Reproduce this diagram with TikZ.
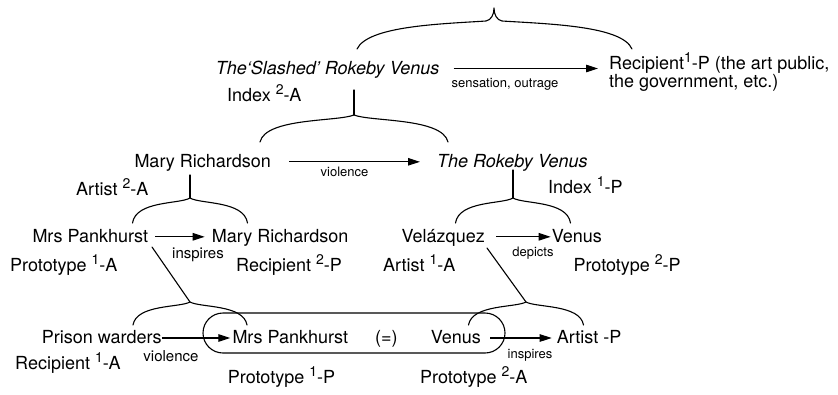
\documentclass[tikz,border=0pt]{standalone}
\usepackage{fontspec}
\setmainfont{TeX Gyre Heros}
\usetikzlibrary{arrows.meta}
\newcommand\upnum[1]{\raisebox{7pt}{\fontsize{14}{14}\selectfont #1}}
\tikzset{
  lbl/.style={anchor=base west, inner sep=0pt, font=\fontsize{18}{18}\selectfont, text height=14pt, text depth=3pt},
  itlbl/.style={lbl, font=\fontsize{18}{18}\selectfont\itshape},
  small/.style={anchor=base, inner sep=0pt, font=\fontsize{13}{13}\selectfont},
  smallbig/.style={anchor=base, inner sep=0pt, font=\fontsize{15}{15}\selectfont},
  arr/.style={-{Triangle[length=12pt,width=7.5pt]}, line width=1.1pt},
  brc/.style={line width=1.1pt, line join=round, line cap=round},
  pics/ubrace/.style args={#1/#2}{code={
    \draw[brc] (-#1,#2) .. controls (-0.94*#1,0.1*#2) and (-0.18*#1,0.25*#2) .. (0,0)
      .. controls (0.18*#1,0.25*#2) and (0.94*#1,0.1*#2) .. (#1,#2);}}
}
\begin{document}
\begin{tikzpicture}[x=1pt,y=-1pt]
\useasboundingbox (0,0) rectangle (838,394);
% row 1
\node[itlbl] (sv) at (215.7,74) {The‘Slashed’ Rokeby Venus};
\node[lbl, text height=13pt, text depth=1pt] (rec1) at (609,69.5) {Recipient\upnum{1}-P (the art public,};
\node[lbl, text height=11pt] (rec2) at (609,87.5) {the government, etc.)};
\node[small] (so) at (505,87.3) {sensation, outrage};
\node[lbl] (ix2a) at (227,101.7) {Index \upnum{2}-A};
% row 2
\node[lbl] (mr1) at (134.3,167.3) {Mary Richardson};
\node[small] (vi1) at (344.5,176.3) {violence};
\node[itlbl] (rv) at (437,167.3) {The Rokeby Venus};
\node[lbl] (ix1p) at (548,193.3) {Index \upnum{1}-P};
\node[lbl] (ar2a) at (76,195.3) {Artist \upnum{2}-A};
% row 3
\node[lbl] (mp1) at (32.3,242.3) {Mrs Pankhurst};
\node[lbl] (mr2) at (211.7,242.3) {Mary Richardson};
\node[smallbig] (in1) at (198,258.3) {inspires};
\node[lbl] (pt1a) at (10,271.7) {Prototype \upnum{1}-A};
\node[lbl] (rc2p) at (236,271.7) {Recipient \upnum{2}-P};
\node[lbl] (vel) at (401.5,242.3) {Velázquez};
\node[small] (dep) at (533,256.7) {depicts};
\node[lbl] (ven1) at (551.7,242.3) {Venus};
\node[lbl] (ar1a) at (383,271.7) {Artist \upnum{1}-A};
\node[lbl] (pt2p) at (573.3,271.3) {Prototype \upnum{2}-P};
% row 4
\node[draw, line width=1.1pt, rounded corners=20pt, minimum width=302pt, minimum height=40pt, inner sep=0pt] (grp) at (354,333) {};
\node[lbl] (pw) at (41.7,343.5) {Prison warders};
\node[lbl] (mp2) at (232.3,343.5) {Mrs Pankhurst};
\node[lbl] (eq) at (375,343.5) {(=)};
\node[lbl] (ven2) at (430.7,343.5) {Venus};
\node[lbl] (arp) at (556.7,343.5) {Artist -P};
\node[smallbig] (vi2) at (171,361.7) {violence};
\node[small] (in2) at (530,358.3) {inspires};
\node[lbl] (rc1a) at (15,369.3) {Recipient \upnum{1}-A};
\node[lbl] (pt1p) at (227.7,383.3) {Prototype \upnum{1}-P};
\node[lbl] (pt2a) at (420,383.3) {Prototype \upnum{2}-A};
% arrows
\draw[arr, shorten <=14pt, shorten >=11pt] (sv.east) -- (sv.east -| rec1.west);
\draw[arr, shorten <=18pt, shorten >=17pt] (mr1.east) -- (rv.west);
\draw[arr, shorten <=7pt, shorten >=7pt] (mp1.east) -- (mr2.west);
\draw[arr, shorten <=11pt, shorten >=1pt] (vel.east) -- (ven1.west);
\draw[arr, shorten <=0pt, shorten >=2pt] (pw.east) -- (mp2.west);
\draw[arr, shorten <=9pt, shorten >=5pt] (ven2.east) -- (arp.west);
% top brace
\draw[brc] (357,49) .. controls (368,26) and (440,24) .. (486,21)
  .. controls (491,20) and (494,15) .. (494,8)
  .. controls (494,15) and (497,20) .. (502,21)
  .. controls (550,24) and (622,26) .. (632,49);
% brace under slashed venus
\coordinate (s1) at (354,90); \coordinate (t1) at (354,115);
\draw[brc] (s1) -- (t1); \pic at (t1) {ubrace=94/27};
% brace under Mary Richardson
\coordinate (s2) at (190,175); \coordinate (t2) at (190,198);
\draw[brc] (s2) -- (t2); \pic at (t2) {ubrace=57.5/25};
% brace under Rokeby Venus
\coordinate (s3) at (513,170); \coordinate (t3) at (513,198);
\draw[brc] (s3) -- (t3); \pic at (t3) {ubrace=57.5/25};
% bottom-left brace
\coordinate (s4) at (152,247); \coordinate (t4) at (190,302);
\draw[brc] (s4) -- (t4); \pic at (t4) {ubrace=57/23};
% bottom-right brace
\coordinate (s5) at (487,248); \coordinate (t5) at (526,302);
\draw[brc] (s5) -- (t5); \pic at (t5) {ubrace=57.5/23};
\end{tikzpicture}
\end{document}
